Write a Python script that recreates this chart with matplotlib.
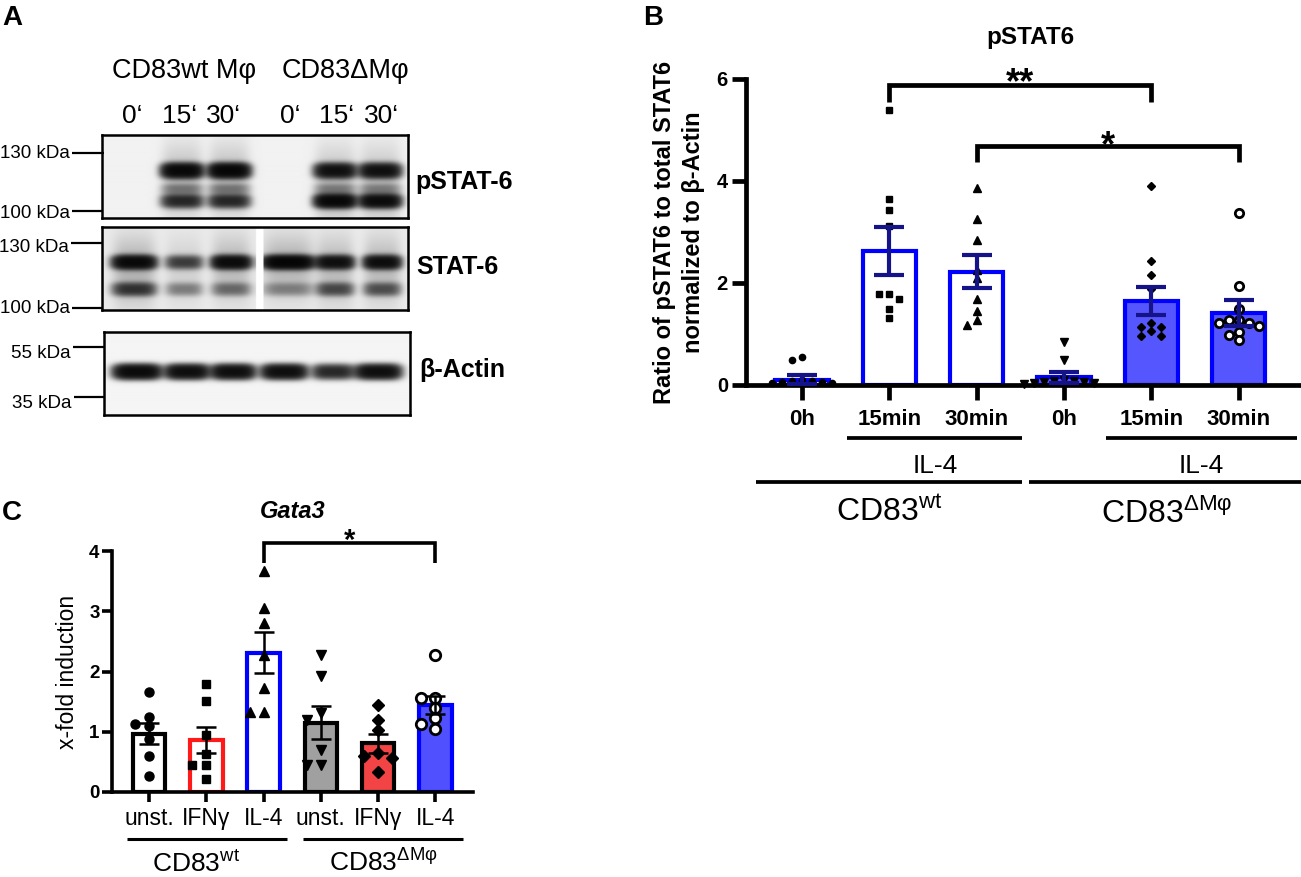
import numpy as np
import matplotlib
matplotlib.use("Agg")
import matplotlib.pyplot as plt

plt.rcParams['font.family'] = ['Liberation Sans', 'DejaVu Sans']
plt.rcParams['mathtext.fontset'] = 'custom'
plt.rcParams['mathtext.rm'] = 'Liberation Sans'
plt.rcParams['mathtext.it'] = 'Liberation Sans:italic'
plt.rcParams['mathtext.bf'] = 'Liberation Sans:bold'

W, H = 1301, 877

# ---------------- Panel A (western blot) data ----------------
blot_groups = ["CD83wt Mφ", "CD83ΔMφ"]
blot_times = ["0‘", "15‘", "30‘", "0‘", "15‘", "30‘"]
blot_names = ["pSTAT-6", "STAT-6", "β-Actin"]
pstat6_upper = [0.0, 1.1, 1.15, 0.0, 0.9, 0.9]
pstat6_mid = [0.0, 0.18, 0.18, 0.0, 0.15, 0.15]
pstat6_lower = [0.0, 0.6, 0.6, 0.0, 1.1, 1.0]
stat6_upper = [1.05, 0.45, 1.0, 1.2, 0.9, 0.95]
stat6_lower = [0.5, 0.2, 0.25, 0.18, 0.38, 0.35]
actin_band = [1.1, 1.0, 1.0, 1.0, 0.65, 1.0]
kda_pstat6 = ["130 kDa", "100 kDa"]
kda_stat6 = ["130 kDa", "100 kDa"]
kda_actin = ["55 kDa", "35 kDa"]

# ---------------- Panel B data ----------------
b_title = "pSTAT6"
b_labels = ["0h", "15min", "30min", "0h", "15min", "30min"]
b_means = [0.10, 2.62, 2.22, 0.15, 1.65, 1.41]
b_sem = [0.09, 0.47, 0.32, 0.11, 0.27, 0.25]
b_points = [
    [0.05, 0.08, 0.10, 0.03, 0.06, 0.49, 0.54, 0.04, 0.07],
    [5.40, 3.64, 3.44, 3.12, 1.78, 1.78, 1.68, 1.50, 1.31],
    [3.87, 3.25, 2.84, 2.25, 2.10, 1.69, 1.46, 1.28, 1.18],
    [0.84, 0.49, 0.10, 0.06, 0.04, 0.08, 0.05, 0.03, 0.02, 0.07],
    [3.90, 2.44, 2.16, 1.88, 1.22, 1.13, 1.13, 1.05, 0.97, 0.97],
    [3.37, 1.95, 1.49, 1.27, 1.27, 1.21, 1.21, 1.16, 1.03, 0.99, 0.88],
]
b_ylabel = "Ratio of pSTAT6 to total STAT6\nnormalized to β-Actin"

# ---------------- Panel C data ----------------
c_title = "Gata3"
c_labels = ["unst.", "IFNγ", "IL-4", "unst.", "IFNγ", "IL-4"]
c_means = [0.97, 0.86, 2.31, 1.15, 0.81, 1.45]
c_sem = [0.17, 0.22, 0.34, 0.27, 0.16, 0.15]
c_points = [
    [1.66, 1.25, 1.13, 1.09, 0.88, 0.60, 0.27],
    [1.79, 1.51, 0.95, 0.63, 0.45, 0.45, 0.22],
    [3.67, 3.05, 2.80, 2.28, 1.72, 1.32, 1.32],
    [2.27, 1.92, 1.31, 1.20, 0.70, 0.45, 0.45],
    [1.44, 1.19, 1.03, 0.65, 0.60, 0.56, 0.33],
    [2.28, 1.56, 1.56, 1.39, 1.23, 1.13, 1.04],
]
c_ylabel = "x-fold induction"
group_wt = r"CD83$^{\mathrm{wt}}$"
group_ko = r"CD83$^{\mathrm{ΔMφ}}$"

# ---------------- helpers ----------------
fig = plt.figure(figsize=(W / 100, H / 100), dpi=100)


def rect(x0, y0, x1, y1):
    return [x0 / W, 1 - y1 / H, (x1 - x0) / W, (y1 - y0) / H]


ov = fig.add_axes([0, 0, 1, 1], zorder=20)
ov.set_xlim(0, W)
ov.set_ylim(H, 0)
ov.axis('off')


def hline(x0, x1, y, lw):
    ov.plot([x0, x1], [y, y], color='black', lw=lw, solid_capstyle='butt')


def swarm_x(ax, xc, vals, step_px, dy_px):
    p0 = ax.transData.transform((0, 0))
    p1 = ax.transData.transform((1, 1))
    sx, sy = p1[0] - p0[0], p1[1] - p0[1]
    vals = np.asarray(vals, float)
    order = np.argsort(-vals, kind='stable')
    placed = []
    xs = np.zeros(len(vals))
    for i in order:
        y = vals[i] * sy
        for k in [0, -1, 1, -2, 2, -3, 3, -4, 4, -5, 5]:
            if all(not (abs(k - kk) < 0.95 and abs(y - yy) < dy_px) for kk, yy in placed):
                break
        placed.append((k, y))
        xs[i] = xc + k * step_px / sx
    return xs


# ---------------- Panel A ----------------
def blot(box, lane_x, lane_hw, bands, bg, gap=None, haze=0.0):
    x0, y0, x1, y1 = box
    ax = fig.add_axes(rect(x0, y0, x1, y1))
    xs = np.arange(x0, x1, 0.5)
    ys = np.arange(y0, y1, 0.5)
    X, Y = np.meshgrid(xs, ys)
    D = np.full(X.shape, bg)
    for cy, hh, amps in bands:
        for cx, a, hw in zip(lane_x, amps, lane_hw):
            prof = np.exp(-np.abs((X - cx) / hw) ** 4)
            D += a * prof * np.exp(-np.abs((Y - cy) / hh) ** 2.6)
            D += haze * a * prof * np.exp(-((Y - cy) / (hh * 4)) ** 2)
    img = np.exp(-2.8 * D)
    if gap is not None:
        img[:, (xs >= gap[0]) & (xs <= gap[1])] = 1.0
    ax.imshow(img, cmap='gray', vmin=0, vmax=1, extent=(x0, x1, y1, y0),
              aspect='auto', interpolation='bilinear')
    ax.set_xlim(x0, x1)
    ax.set_ylim(y1, y0)
    ax.set_xticks([])
    ax.set_yticks([])
    for s in ax.spines.values():
        s.set_linewidth(1.8)
    return ax


blot((102, 135, 408, 218), [132, 182, 229, 288, 335, 380], [20] * 6,
     [(171, 7.0, pstat6_upper), (189, 5.0, pstat6_mid), (201, 6.5, pstat6_lower)], 0.02, haze=0.06)
blot((102, 227, 408, 310), [134, 184, 231, 288, 335, 382], [21, 18, 19, 25, 18, 18],
     [(262, 6.5, stat6_upper), (289, 6.5, stat6_lower)], 0.03, gap=(256, 263), haze=0.08)
blot((104, 332, 410, 415), [137, 187, 233, 284, 333, 378], [23, 21, 21, 22, 20, 22],
     [(372, 7.0, actin_band)], 0.015)

ov.text(2, 25, "A", fontsize=20, fontweight='bold', ha='left', va='baseline')
ov.text(184, 78, blot_groups[0], fontsize=19.5, ha='center', va='baseline')
ov.text(345, 78, blot_groups[1], fontsize=19.5, ha='center', va='baseline')
for xt, t in zip([132, 180, 224, 290, 337, 382], blot_times):
    ov.text(xt, 123, t, fontsize=19, ha='center', va='baseline')

for (lbl, ly, tb, x0, x1) in [(kda_pstat6[0], 153, 158, 72, 104), (kda_pstat6[1], 211, 218, 72, 102),
                              (kda_stat6[0], 243, 252, 71, 103), (kda_stat6[1], 308, 313, 72, 102),
                              (kda_actin[0], 347, 358, 73, 105), (kda_actin[1], 397, 408, 74, 105)]:
    hline(x0, x1, ly, 1.6)
    ov.text(x0 - 2, tb, lbl, fontsize=13.5, ha='right', va='baseline')

for name, xb, yb in zip(blot_names, [415, 416, 419], [189, 274, 377]):
    ov.text(xb, yb, name, fontsize=18, fontweight='bold', ha='left', va='baseline')

# ---------------- Panel B ----------------
axB = fig.add_axes(rect(746, 79, 1300, 385))
axB.set_xlim(-0.64, 5.70)
axB.set_ylim(0, 6)
xB = np.arange(len(b_labels))
blue = '#0000FF'
navy = '#141488'
b_face = ['white', 'white', 'white', '#5656FF', '#5656FF', '#5656FF']
axB.bar(xB, b_means, width=0.61, color=b_face, edgecolor=blue, linewidth=3.0, zorder=1)
b_mk = [dict(marker='o', ms=4.5, mfc='k', mec='k'),
        dict(marker='s', ms=4.5, mfc='k', mec='k'),
        dict(marker='^', ms=5.5, mfc='k', mec='k'),
        dict(marker='v', ms=5.5, mfc='k', mec='k'),
        dict(marker='D', ms=4.0, mfc='k', mec='k'),
        dict(marker='o', ms=6.0, mfc='white', mec='k', mew=2.0)]
for i, pts in enumerate(b_points):
    xs = swarm_x(axB, xB[i], pts, 10, 6)
    axB.plot(xs, pts, ls='none', zorder=3, clip_on=False, **b_mk[i])
axB.errorbar(xB, b_means, yerr=b_sem, fmt='none', ecolor=navy, elinewidth=3.0,
             capsize=10.5, capthick=3.0, zorder=4)
for s in ['top', 'right']:
    axB.spines[s].set_visible(False)
for s in ['left', 'bottom']:
    axB.spines[s].set_linewidth(3.4)
axB.set_yticks([0, 2, 4, 6])
axB.set_yticklabels(['0', '2', '4', '6'], fontsize=14.5, fontweight='bold')
axB.set_xticks(xB)
axB.set_xticklabels(b_labels, fontsize=16, fontweight='bold')
axB.tick_params(axis='y', length=10, width=3.4, pad=3)
axB.tick_params(axis='x', length=11, width=3.4, pad=6)

# significance brackets
axB.plot([1, 1, 4, 4], [5.55, 5.88, 5.88, 5.55], color='k', lw=3.4, clip_on=False,
         solid_joinstyle='miter', solid_capstyle='butt')
axB.text(2.5, 5.72, '**', fontsize=26, fontweight='bold', ha='center', va='baseline')
axB.plot([2, 2, 5, 5], [4.37, 4.69, 4.69, 4.37], color='k', lw=3.4, clip_on=False,
         solid_joinstyle='miter', solid_capstyle='butt')
axB.text(3.5, 4.49, '*', fontsize=26, fontweight='bold', ha='center', va='baseline')

ov.text(643, 25, "B", fontsize=20, fontweight='bold', ha='left', va='baseline')
ov.text(1030, 44, b_title, fontsize=17.5, fontweight='bold', ha='center', va='baseline')
ov.text(679, 232, b_ylabel, rotation=90, fontsize=17, fontweight='bold', ha='center',
        va='center', multialignment='center', linespacing=1.35)
hline(847, 1022, 438, 2.7)
hline(1106, 1297, 438, 2.7)
ov.text(935, 473, "IL-4", fontsize=19, ha='center', va='baseline')
ov.text(1201, 473, "IL-4", fontsize=19, ha='center', va='baseline')
hline(756, 1022, 482, 2.7)
hline(1029, 1301, 482, 2.7)
ov.text(889, 521, group_wt, fontsize=23, ha='center', va='baseline')
ov.text(1167, 523, group_ko, fontsize=23, ha='center', va='baseline')

# ---------------- Panel C ----------------
axC = fig.add_axes(rect(112, 551, 473, 792))
axC.set_xlim(-0.65, 5.66)
axC.set_ylim(0, 4)
xC = np.arange(len(c_labels))
c_face = ['white', 'white', 'white', '#A0A0A0', '#F24444', '#5050FF']
c_edge = ['black', '#FF1A1A', '#0000FF', 'black', 'black', '#0000FF']
axC.bar(xC, c_means, width=0.57, color=c_face, edgecolor=c_edge, linewidth=3.0, zorder=1)
c_mk = [dict(marker='o', ms=6.5, mfc='k', mec='k'),
        dict(marker='s', ms=6.0, mfc='k', mec='k'),
        dict(marker='^', ms=7.0, mfc='k', mec='k'),
        dict(marker='v', ms=7.0, mfc='k', mec='k'),
        dict(marker='D', ms=6.0, mfc='k', mec='k'),
        dict(marker='o', ms=7.5, mfc='white', mec='k', mew=2.0)]
for i, pts in enumerate(c_points):
    xs = swarm_x(axC, xC[i], pts, 14, 9)
    axC.plot(xs, pts, ls='none', zorder=3, clip_on=False, **c_mk[i])
axC.errorbar(xC, c_means, yerr=c_sem, fmt='none', ecolor='black', elinewidth=1.8,
             capsize=7, capthick=1.8, zorder=4)
for s in ['top', 'right']:
    axC.spines[s].set_visible(False)
for s in ['left', 'bottom']:
    axC.spines[s].set_linewidth(2.6)
axC.set_yticks([0, 1, 2, 3, 4])
axC.set_yticklabels(['0', '1', '2', '3', '4'], fontsize=13.5, fontweight='bold')
axC.set_xticks(xC)
axC.set_xticklabels(c_labels, fontsize=16.5)
axC.tick_params(axis='y', length=7, width=2.6, pad=2)
axC.tick_params(axis='x', length=7, width=2.6, pad=4)
axC.plot([2, 2, 5, 5], [3.8, 4.13, 4.13, 3.8], color='k', lw=2.6, clip_on=False,
         solid_joinstyle='miter', solid_capstyle='butt')
axC.text(3.5, 4.03, '*', fontsize=21, fontweight='bold', ha='center', va='baseline')

ov.text(2, 520, "C", fontsize=20, fontweight='bold', ha='left', va='baseline')
ov.text(293, 518, c_title, fontsize=17, fontweight='bold', fontstyle='italic',
        ha='center', va='baseline')
ov.text(67, 672, c_ylabel, rotation=90, fontsize=16.5, ha='center', va='center')
hline(127, 287, 839, 2.2)
hline(303, 463, 839, 2.2)
ov.text(196, 872, group_wt, fontsize=19, ha='center', va='baseline')
ov.text(383, 872, group_ko, fontsize=19, ha='center', va='baseline')

fig.savefig("out.png", dpi=100)
